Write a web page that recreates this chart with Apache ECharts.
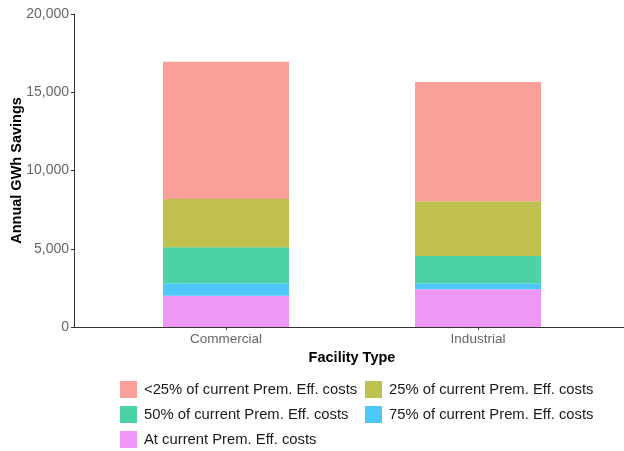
<!DOCTYPE html>
<html>
<head>
<meta charset="utf-8">
<script src="https://cdn.jsdelivr.net/npm/echarts@6/dist/echarts.min.js"></script>
<style>
  html, body { margin: 0; padding: 0; background: #fff; }
  #chart { width: 624px; height: 451px; }
</style>
</head>
<body>
<div id="chart"></div>
<script>
// categories and stacked segments (bottom to top)
const categories = ['Commercial', 'Industrial'];
const atCurrent = [2000, 2410];
const pct75 = [790, 380];
const pct50 = [2300, 1750];
const pct25 = [3090, 3490];
const under25 = [8770, 7620];
const yTicks = [0, 5000, 10000, 15000, 20000];

const names = {
  under25: '<25% of current Prem. Eff. costs',
  pct25: '25% of current Prem. Eff. costs',
  pct50: '50% of current Prem. Eff. costs',
  pct75: '75% of current Prem. Eff. costs',
  atCurrent: 'At current Prem. Eff. costs'
};
const colors = {
  under25: '#FA9F99',
  pct25: '#BFC04D',
  pct50: '#4DD2A4',
  pct75: '#4DC8F9',
  atCurrent: '#EE97F7'
};

const FONT = 'Liberation Sans, Arial, sans-serif';
const chart = echarts.init(document.getElementById('chart'));

function barSeries(key, values) {
  return {
    name: names[key],
    type: 'bar',
    stack: 'total',
    barWidth: 126,
    xAxisIndex: 0,
    yAxisIndex: 0,
    itemStyle: { color: colors[key] },
    data: values
  };
}

function legendItem(key, left, top) {
  return {
    data: [names[key]],
    left: left,
    top: top,
    padding: 0,
    itemWidth: 17,
    itemHeight: 17,
    itemGap: 0,
    icon: 'rect',
    textStyle: { fontSize: 14.8, color: '#1a1a1a', fontFamily: FONT, padding: [0, 0, 0, 2] }
  };
}

const yMin = yTicks[0];
const yMax = yTicks[yTicks.length - 1];

const option = {
  animation: false,
  textStyle: { fontFamily: FONT },
  // grid 0: bars on a category axis; grid 1: the visible axes, which reach past the bars
  grid: [
    { left: 100, right: 20, top: 14, bottom: 124, outerBoundsMode: 'none' },
    { left: 74, right: 0, top: 14, bottom: 124, outerBoundsMode: 'none' }
  ],
  xAxis: [
    {
      gridIndex: 0,
      type: 'category',
      data: categories,
      name: 'Facility Type',
      nameLocation: 'middle',
      nameGap: 18,
      nameTextStyle: { fontSize: 14.5, fontWeight: 'bold', color: '#000' },
      axisLine: { show: false },
      axisTick: { show: true, alignWithLabel: true, length: 3, lineStyle: { color: '#333' } },
      axisLabel: { fontSize: 13.5, color: '#666', margin: 5 },
      splitLine: { show: false }
    },
    {
      gridIndex: 1,
      type: 'value',
      min: 0,
      max: 1,
      axisLine: { show: true, lineStyle: { color: '#333', width: 1 } },
      axisTick: { show: false },
      axisLabel: { show: false },
      splitLine: { show: false }
    }
  ],
  yAxis: [
    {
      gridIndex: 0,
      type: 'value',
      min: yMin,
      max: yMax,
      show: false
    },
    {
      gridIndex: 1,
      type: 'value',
      min: yMin,
      max: yMax,
      interval: 5000,
      name: 'Annual GWh Savings',
      nameLocation: 'middle',
      nameGap: 50,
      nameMoveOverlap: false,
      nameTextStyle: { fontSize: 14.5, fontWeight: 'bold', color: '#000' },
      axisLine: { show: true, lineStyle: { color: '#333', width: 1 } },
      axisTick: { show: true, length: 3, lineStyle: { color: '#333' } },
      axisLabel: {
        fontSize: 14,
        color: '#666',
        margin: 5,
        formatter: v => v.toLocaleString('en-US')
      },
      splitLine: { show: false }
    }
  ],
  legend: [
    legendItem('under25', 120, 381),
    legendItem('pct25', 365, 381),
    legendItem('pct50', 120, 406),
    legendItem('pct75', 365, 406),
    legendItem('atCurrent', 120, 431)
  ],
  series: [
    barSeries('atCurrent', atCurrent),
    barSeries('pct75', pct75),
    barSeries('pct50', pct50),
    barSeries('pct25', pct25),
    barSeries('under25', under25)
  ]
};

chart.setOption(option);
</script>
</body>
</html>
